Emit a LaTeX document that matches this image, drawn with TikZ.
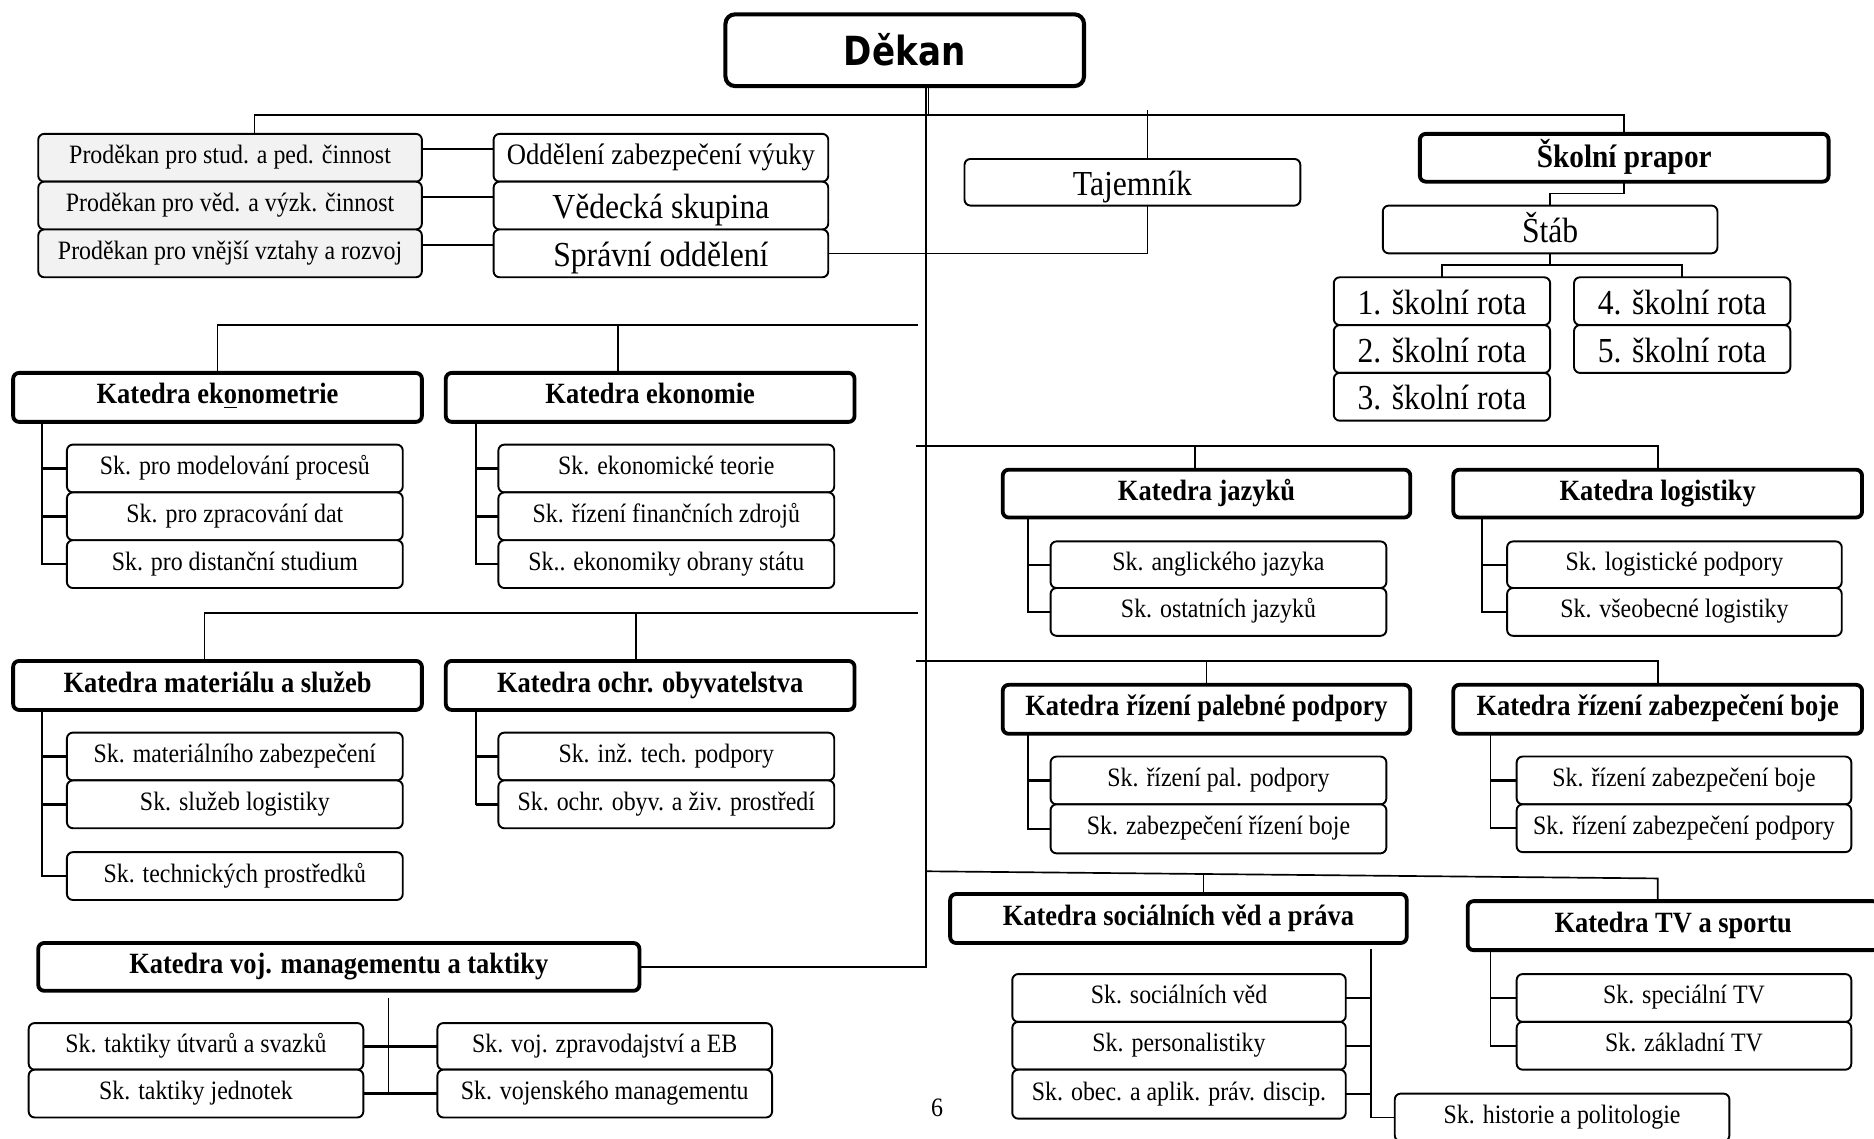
\documentclass[tikz,border=0pt]{standalone}
\usepackage{fontspec}
\setmainfont{Liberation Serif}[FakeStretch=0.9]
\newfontfamily\dkfont{DejaVu Sans}[FakeStretch=0.85]
\usetikzlibrary{backgrounds}
\newcommand\FSsub{\fontsize{11.1}{12}\selectfont}
\newcommand\FSmid{\fontsize{12.4}{13}\selectfont}
\newcommand\FSlarge{\fontsize{14.7}{16}\selectfont}
\newcommand\FSbold{\fontsize{12.3}{13}\selectfont\bfseries}
\newcommand\obox[7]{\node[#1, minimum width={(#5-#3)*0.5pt}, minimum height={(#6-#4)*0.5pt}] (#2) at ({(#3+#5)/2},{(#4+#6)/2}) {#7};}
\tikzset{
  box/.style={draw, rounded corners=2.5pt, fill=white, inner sep=0pt, outer sep=0pt, line width=0.8pt, align=center, font=\FSsub, text height=7.8pt, text depth=2.8pt},
  grey/.style={box, fill=black!5},
  big/.style={box, font=\FSlarge, text height=12.5pt, text depth=1.5pt},
  kat/.style={box, line width=1.6pt, font=\FSbold, text height=8.6pt, text depth=3.1pt},
  conn/.style={line width=0.7pt},
  tick/.style={line width=1pt}
}
\begin{document}
\begin{tikzpicture}[x=0.5pt,y=-0.5pt]
\useasboundingbox (0,0) rectangle (1568,953);
% ---------- top
\obox{box, line width=1.7pt, rounded corners=4pt, font=\dkfont\bfseries\fontsize{16.8}{18}\selectfont, text height=13.5pt, text depth=0.5pt}{dekan}{607}{12}{907}{72}{Děkan}
\obox{grey}{pd1}{32}{112}{353}{152}{Proděkan pro stud. a ped. činnost}
\obox{grey}{pd2}{32}{152}{353}{192}{Proděkan pro věd. a výzk. činnost}
\obox{grey}{pd3}{32}{192}{353}{232}{Proděkan pro vnější vztahy a rozvoj}
\obox{box, font=\FSmid, text height=8.7pt, text depth=3.1pt}{od1}{413}{112}{693}{152}{Oddělení zabezpečení výuky}
\obox{big}{od2}{413}{152}{693}{192}{Vědecká skupina}
\obox{big}{od3}{413}{192}{693}{232}{Správní oddělení}
\obox{big}{taj}{807}{133}{1088}{172}{Tajemník}
\obox{kat, font=\fontsize{13.6}{15}\selectfont\bfseries, text height=10.5pt, text depth=2.5pt}{prapor}{1188}{112}{1530}{152}{Školní prapor}
\obox{big}{stab}{1157}{172}{1437}{212}{Štáb}
\obox{big}{r1}{1116}{232}{1297}{272}{1. školní rota}
\obox{big}{r2}{1116}{272}{1297}{312}{2. školní rota}
\obox{big}{r3}{1116}{312}{1297}{352}{3. školní rota}
\obox{big}{r4}{1317}{232}{1498}{272}{4. školní rota}
\obox{big}{r5}{1317}{272}{1498}{312}{5. školní rota}
% ---------- left departments
\obox{kat}{ke1}{11}{312}{353}{353}{Katedra ek\underline{o}nometrie}
\obox{kat}{ke2}{373}{312}{715}{353}{Katedra ekonomie}
\obox{box}{s11}{56}{372}{337}{412}{Sk. pro modelování procesů}
\obox{box}{s12}{56}{412}{337}{452}{Sk. pro zpracování dat}
\obox{box}{s13}{56}{452}{337}{492}{Sk. pro distanční studium}
\obox{box}{s21}{417}{372}{698}{412}{Sk. ekonomické teorie}
\obox{box}{s22}{417}{412}{698}{452}{Sk. řízení finančních zdrojů}
\obox{box}{s23}{417}{452}{698}{492}{Sk.. ekonomiky obrany státu}
\obox{kat}{km1}{11}{553}{353}{594}{Katedra materiálu a služeb}
\obox{kat}{km2}{373}{553}{715}{594}{Katedra ochr. obyvatelstva}
\obox{box}{s31}{56}{613}{337}{653}{Sk. materiálního zabezpečení}
\obox{box}{s32}{56}{653}{337}{693}{Sk. služeb logistiky}
\obox{box}{s33}{56}{713}{337}{753}{Sk. technických prostředků}
\obox{box}{s41}{417}{613}{698}{653}{Sk. inž. tech. podpory}
\obox{box}{s42}{417}{653}{698}{693}{Sk. ochr. obyv. a živ. prostředí}
\obox{kat}{kvm}{32}{789}{535}{829}{Katedra voj. managementu a taktiky}
\obox{box}{s51}{24}{856}{304}{895}{Sk. taktiky útvarů a svazků}
\obox{box}{s52}{24}{895}{304}{935}{Sk. taktiky jednotek}
\obox{box}{s53}{366}{856}{646}{895}{Sk. voj. zpravodajství a EB}
\obox{box}{s54}{366}{895}{646}{935}{Sk. vojenského managementu}
% ---------- right departments
\obox{kat}{kj}{839}{393}{1180}{433}{Katedra jazyků}
\obox{kat}{kl}{1216}{393}{1558}{433}{Katedra logistiky}
\obox{box}{s61}{879}{453}{1160}{492}{Sk. anglického jazyka}
\obox{box}{s62}{879}{492}{1160}{532}{Sk. ostatních jazyků}
\obox{box}{s71}{1261}{453}{1541}{492}{Sk. logistické podpory}
\obox{box}{s72}{1261}{492}{1541}{532}{Sk. všeobecné logistiky}
\obox{kat}{kp}{839}{573}{1180}{614}{Katedra řízení palebné podpory}
\obox{kat}{kz}{1216}{573}{1558}{614}{Katedra řízení zabezpečení boje}
\obox{box}{s81}{879}{633}{1160}{673}{Sk. řízení pal. podpory}
\obox{box}{s82}{879}{673}{1160}{714}{Sk. zabezpečení řízení boje}
\obox{box}{s91}{1269}{633}{1549}{673}{Sk. řízení zabezpečení boje}
\obox{box}{s92}{1269}{673}{1549}{713}{Sk. řízení zabezpečení podpory}
\obox{kat}{kso}{795}{748}{1177}{789}{Katedra sociálních věd a práva}
\obox{kat}{ktv}{1228}{754}{1572}{795}{Katedra TV a sportu}
\obox{box}{s101}{847}{815}{1126}{855}{Sk. sociálních věd}
\obox{box}{s102}{847}{855}{1126}{895}{Sk. personalistiky}
\obox{box}{s103}{847}{895}{1126}{936}{Sk. obec. a aplik. práv. discip.}
\obox{box}{shist}{1167}{915}{1447}{955}{Sk. historie a politologie}
\obox{box}{s111}{1269}{815}{1549}{855}{Sk. speciální TV}
\obox{box}{s112}{1269}{855}{1549}{895}{Sk. základní TV}
\node[font=\FSsub] (page) at (784,927) {6};
% ---------- coordinates
\coordinate (trunk) at (775,0);
\coordinate (bar) at (213,96);
\coordinate (tj) at (960,92);
\coordinate (L1) at (768,272);
\coordinate (L1b) at (517,272);
\coordinate (L2) at (768,513);
\coordinate (L2a) at (171,513);
\coordinate (L2b) at (532,513);
\coordinate (R1) at (766,373);
\coordinate (R1a) at (1000,373);
\coordinate (R2) at (766,553);
\coordinate (R3) at (775,729);
\coordinate (R3a) at (1007,732);
\coordinate (R3e) at (1387,735);
\coordinate (v1) at ([xshift=12pt]ke1.south west);
\coordinate (v2) at ([xshift=12.5pt]ke2.south west);
\coordinate (v3) at ([xshift=12pt]km1.south west);
\coordinate (v4) at ([xshift=12.5pt]km2.south west);
\coordinate (v5) at ([xshift=146.5pt,yshift=-3pt]kvm.south west);
\coordinate (v6) at ([xshift=10.5pt]kj.south west);
\coordinate (v7) at ([xshift=12pt]kl.south west);
\coordinate (v8) at ([xshift=10.5pt]kp.south west);
\coordinate (v9) at ([xshift=15.5pt]kz.south west);
\coordinate (v10) at ([xshift=-15pt,yshift=-2.5pt]kso.south east);
\coordinate (v11) at ([xshift=9.5pt]ktv.south west);
\begin{pgfonlayer}{background}
% trunk
\draw[conn] (trunk |- dekan.south) -- (trunk |- kvm.east) -- (kvm.east);
\draw[conn] ([xshift=1pt]trunk |- dekan.south) -- ([xshift=1pt]trunk |- bar);
% top bar
\draw[conn] (bar |- pd1.north) -- (bar) -- (bar -| prapor.north) -- (prapor.north);
\draw[conn] (tj) -- (tj |- od3.east) -- (od3.east);
\draw[conn] ([yshift=3.75pt]pd1.east) -- ([yshift=3.75pt]od1.west);
\draw[conn] ([yshift=3.6pt]pd2.east) -- ([yshift=3.6pt]od2.west);
\draw[conn] ([yshift=3.5pt]pd3.east) -- ([yshift=3.5pt]od3.west);
\draw[conn] (prapor.south) -- ++(0,10) -| (stab.north);
\draw[conn] (stab.south) -- ++(0,10) -| (r1.north);
\draw[conn] ([yshift=-5pt]stab.south) -| (r4.north);
% left branches
\draw[conn] (L1) -| (ke1.north);
\draw[conn] (L1b) -- (L1b |- ke2.north);
\draw[conn] (L2) -- (L2a) -- (L2a |- km1.north);
\draw[conn] (L2b) -- (L2b |- km2.north);
% right branches
\draw[conn] (R1) -| (kl.north);
\draw[conn] (R1a) -- (R1a |- kj.north);
\draw[conn] (R2) -| (kz.north);
\draw[conn] (kp.north) -- (kp.north |- R2);
\draw[conn] (R3) -- (R3e) -- (R3e |- ktv.north);
\draw[conn] (R3a) -- (R3a |- kso.north);
% sub-group connectors
\draw[conn] (v1) |- (s13.west);
\draw[tick] (v1 |- s11.west) -- (s11.west);
\draw[tick] (v1 |- s12.west) -- (s12.west);
\draw[tick] (v1 |- s13.west) -- (s13.west);
\draw[conn] (v2) |- (s23.west);
\draw[tick] (v2 |- s21.west) -- (s21.west);
\draw[tick] (v2 |- s22.west) -- (s22.west);
\draw[tick] (v2 |- s23.west) -- (s23.west);
\draw[conn] (v3) |- (s33.west);
\draw[tick] (v3 |- s31.west) -- (s31.west);
\draw[tick] (v3 |- s32.west) -- (s32.west);
\draw[tick] (v3 |- s33.west) -- (s33.west);
\draw[conn] (v4) |- (s42.west);
\draw[tick] (v4 |- s41.west) -- (s41.west);
\draw[tick] (v4 |- s42.west) -- (s42.west);
\draw[conn] (v5) -- (v5 |- s52.east);
\draw[tick] (s51.east) -- (s53.west);
\draw[tick] (s52.east) -- (s54.west);
\draw[conn] (v6) |- (s62.west);
\draw[tick] (v6 |- s61.west) -- (s61.west);
\draw[tick] (v6 |- s62.west) -- (s62.west);
\draw[conn] (v7) |- (s72.west);
\draw[tick] (v7 |- s71.west) -- (s71.west);
\draw[tick] (v7 |- s72.west) -- (s72.west);
\draw[conn] (v8) |- (s82.west);
\draw[tick] (v8 |- s81.west) -- (s81.west);
\draw[tick] (v8 |- s82.west) -- (s82.west);
\draw[conn] (v9) |- (s92.west);
\draw[tick] (v9 |- s91.west) -- (s91.west);
\draw[tick] (v9 |- s92.west) -- (s92.west);
\draw[conn] (v10) |- (shist.west);
\draw[tick] (s101.east) -- (v10 |- s101.east);
\draw[tick] (s102.east) -- (v10 |- s102.east);
\draw[tick] (s103.east) -- (v10 |- s103.east);
\draw[conn] (v11) |- (s112.west);
\draw[tick] (v11 |- s111.west) -- (s111.west);
\draw[tick] (v11 |- s112.west) -- (s112.west);
\end{pgfonlayer}
\end{tikzpicture}
\end{document}
